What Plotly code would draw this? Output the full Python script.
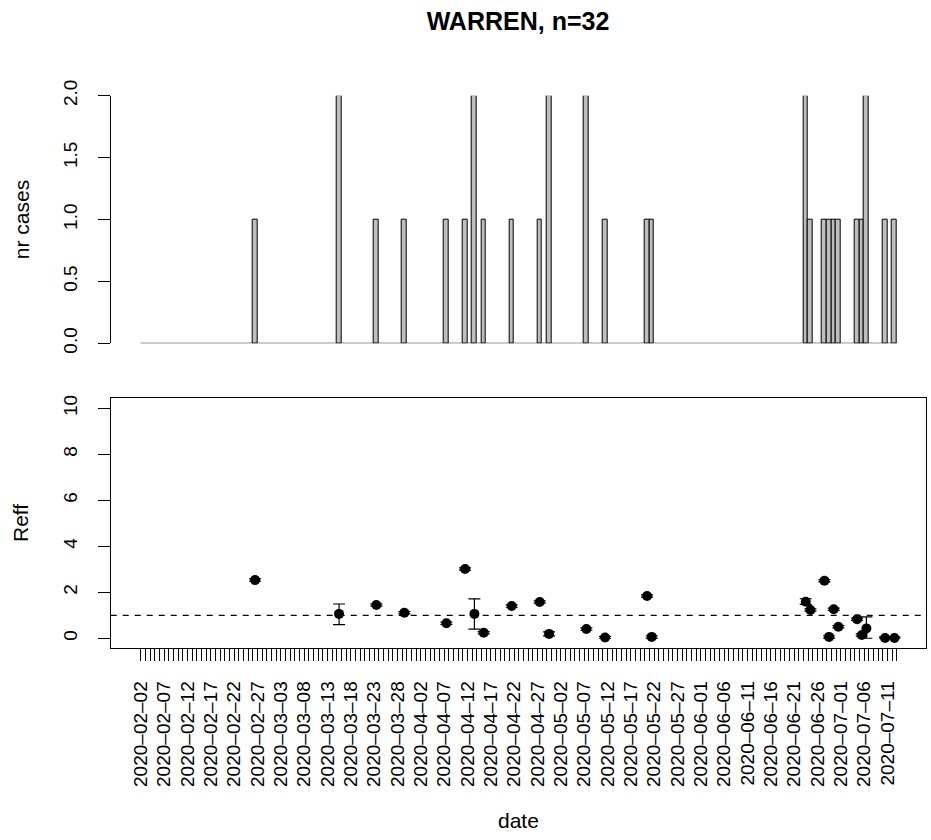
import pandas as pd
import plotly.graph_objects as go

# ---------------- data ----------------
title_text = "WARREN, n=32"
axis_start = "2020-02-02"   # first day on the axis
axis_end = "2020-07-13"     # last tick of the axis

case_dates = ["2020-02-26", "2020-03-15", "2020-03-23", "2020-03-29", "2020-04-07",
              "2020-04-11", "2020-04-13", "2020-04-15", "2020-04-21", "2020-04-27",
              "2020-04-29", "2020-05-07", "2020-05-11", "2020-05-20", "2020-05-21",
              "2020-06-23", "2020-06-24", "2020-06-27", "2020-06-28", "2020-06-29",
              "2020-06-30", "2020-07-04", "2020-07-05", "2020-07-06", "2020-07-10",
              "2020-07-12"]
case_counts = [1, 2, 1, 1, 1,
               1, 2, 1, 1, 1,
               2, 2, 1, 1, 1,
               2, 1, 1, 1, 1,
               1, 1, 1, 2, 1,
               1]

reff_mean = [2.53, 1.06, 1.45, 1.11, 0.65,
             3.01, 1.06, 0.24, 1.40, 1.58,
             0.19, 0.40, 0.03, 1.84, 0.06,
             1.59, 1.23, 2.50, 0.06, 1.26,
             0.50, 0.83, 0.14, 0.43, 0.01,
             0.01]
reff_low = [2.48, 0.59, 1.40, 1.06, 0.60,
            2.96, 0.40, 0.19, 1.35, 1.53,
            0.10, 0.35, 0.00, 1.79, 0.01,
            1.47, 1.18, 2.45, 0.01, 1.21,
            0.45, 0.78, 0.09, 0.00, 0.00,
            0.00]
reff_high = [2.58, 1.49, 1.50, 1.16, 0.70,
             3.06, 1.71, 0.29, 1.45, 1.63,
             0.28, 0.45, 0.08, 1.89, 0.11,
             1.72, 1.28, 2.55, 0.11, 1.31,
             0.55, 0.88, 0.19, 0.93, 0.06,
             0.06]
reff_threshold = 1

y_cases_ticks = [0, 0.5, 1.0, 1.5, 2.0]
y_reff_ticks = [0, 2, 4, 6, 8, 10]
label_every = 5

# ---------------- derived ----------------
all_days = pd.date_range(axis_start, axis_end, freq="D")
tick_vals = [d.strftime("%Y-%m-%d") for d in all_days]
tick_text = [d.strftime("%Y–%m–%d") if i % label_every == 0 else "" for i, d in enumerate(all_days)]
t0 = pd.Timestamp(axis_start)
x_range = [t0 - pd.Timedelta(days=6.43), t0 + pd.Timedelta(days=168.27)]
last_bar_end = pd.Timestamp(axis_end)

W, H = 931, 840
x_dom = [110.7 / W, 926 / W]
top_dom = [1 - 343.3 / H, 1 - 95.7 / H]
bot_dom = [1 - 647.7 / H, 1 - 398 / H]

FONT = "Liberation Sans, Arial, Helvetica, sans-serif"
DAY_MS = 86400000

fig = go.Figure()

# baseline of the bar panel (zero-height bars)
fig.add_trace(go.Scatter(
    x=[t0, last_bar_end], y=[0, 0], mode="lines",
    line=dict(color="black", width=1), xaxis="x", yaxis="y",
    hoverinfo="skip", showlegend=False))

fig.add_trace(go.Bar(
    x=case_dates, y=case_counts, xaxis="x", yaxis="y",
    xperiod=DAY_MS, xperiodalignment="middle", width=DAY_MS,
    marker=dict(color="#BEBEBE", line=dict(color="black", width=1)),
    cliponaxis=False, showlegend=False))

err_plus = [h - m for h, m in zip(reff_high, reff_mean)]
err_minus = [m - l for m, l in zip(reff_mean, reff_low)]
fig.add_trace(go.Scatter(
    x=case_dates, y=reff_mean, mode="markers", xaxis="x2", yaxis="y2",
    xperiod=DAY_MS, xperiodalignment="middle",
    marker=dict(color="black", size=10),
    error_y=dict(type="data", array=err_plus, arrayminus=err_minus,
                 color="black", thickness=1.2, width=6),
    cliponaxis=False, showlegend=False))

fig.add_shape(type="line", xref="x2 domain", yref="y2", x0=0, x1=1,
              y0=reff_threshold, y1=reff_threshold,
              line=dict(color="black", width=1.2, dash="6px,6px"))

fig.update_layout(
    template="none",
    width=W, height=H,
    margin=dict(l=0, r=0, t=0, b=0, autoexpand=False),
    paper_bgcolor="white", plot_bgcolor="white",
    font=dict(family=FONT, color="black", size=18),
    showlegend=False,
    bargap=0,
    title=dict(text="<b>" + title_text + "</b>", x=518 / W, xanchor="center",
               y=1 - 21 / H, yanchor="middle", yref="container",
               font=dict(size=25, family=FONT, color="black")),
    xaxis=dict(domain=x_dom, anchor="y", type="date", range=x_range,
               visible=False, showgrid=False, zeroline=False, automargin=False),
    yaxis=dict(domain=top_dom, anchor="x", range=[0, 2], tickvals=y_cases_ticks,
               ticktext=[f"{v:.1f}" for v in y_cases_ticks],
               showline=True, linecolor="black", linewidth=1,
               ticks="outside", ticklen=12, tickcolor="black", tickwidth=1,
               tickangle=-90, ticklabelstandoff=13, automargin=False,
               tickfont=dict(size=19),
               showgrid=False, zeroline=False),
    xaxis2=dict(domain=x_dom, anchor="y2", type="date", range=x_range,
                tickvals=tick_vals, ticktext=tick_text, tickangle=-90,
                ticks="outside", ticklen=12, tickcolor="black", tickwidth=1,
                ticklabelstandoff=13, automargin=False,
                showline=True, linecolor="black", linewidth=1, mirror=True,
                showgrid=False, zeroline=False, tickfont=dict(size=19)),
    yaxis2=dict(domain=bot_dom, anchor="x2", range=[-0.41, 10.45], tickvals=y_reff_ticks,
                showline=True, linecolor="black", linewidth=1, mirror=True,
                ticks="outside", ticklen=12, tickcolor="black", tickwidth=1,
                tickangle=-90, ticklabelstandoff=13, automargin=False,
                tickfont=dict(size=19),
                showgrid=False, zeroline=False),
    annotations=[
        dict(text="nr cases", x=21.7 / W, y=1 - 219.5 / H, xref="paper", yref="paper",
             xanchor="center", yanchor="middle",
             textangle=-90, showarrow=False, font=dict(size=21)),
        dict(text="Reff", x=20 / W, y=1 - 523 / H, xref="paper", yref="paper",
             xanchor="center", yanchor="middle",
             textangle=-90, showarrow=False, font=dict(size=21)),
        dict(text="date", x=518 / W, y=1 - 820 / H, xref="paper", yref="paper",
             xanchor="center", yanchor="middle",
             showarrow=False, font=dict(size=21)),
    ],
)

fig.write_html("out.html", config={"displayModeBar": False},
               post_script="document.body.style.margin='0';document.body.style.overflow='hidden';")
